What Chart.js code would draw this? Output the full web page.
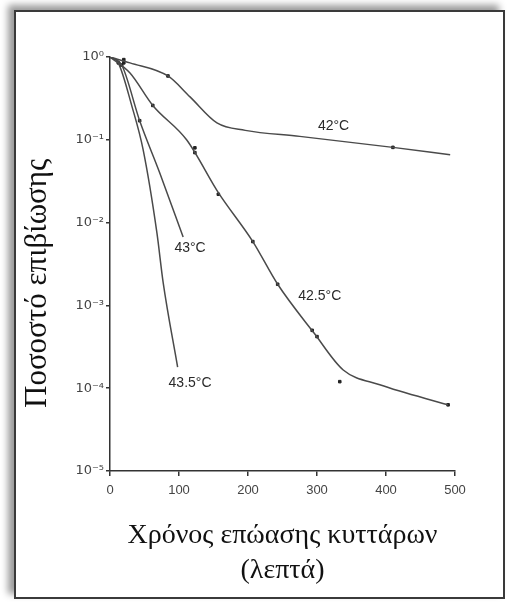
<!DOCTYPE html>
<html>
<head>
<meta charset="utf-8">
<script src="https://cdn.jsdelivr.net/npm/chart.js@4"></script>
<style>
  html, body { margin:0; padding:0; background:#fff; width:508px; height:606px; overflow:hidden; }
  #frame { position:absolute; left:14px; top:10px; width:487px; height:585px; border:2px solid #3a3a3a; box-shadow:-6px -5px 7px #9a9a9a; background:#fff; }
  #wrap { position:absolute; left:0; top:0; width:508px; height:606px; }
</style>
</head>
<body>
<div id="frame"></div>
<div id="wrap"><canvas id="c" width="508" height="606"></canvas></div>
<script>
// ---- data (minutes, surviving fraction) ----
const xTicks = [0, 100, 200, 300, 400, 500];
const yTicks = [1, 1e-1, 1e-2, 1e-3, 1e-4, 1e-5];
const yTickLabels = ['10\u2070', '10\u207B\u00B9', '10\u207B\u00B2', '10\u207B\u00B3', '10\u207B\u2074', '10\u207B\u2075'];

const curve42x  = [0, 29, 84, 116, 155, 196, 275, 410, 493];
const curve42y  = [1, 0.85, 0.59, 0.33, 0.16, 0.13, 0.11, 0.081, 0.066];
const dots42x   = [20, 84, 410];
const dots42y   = [0.93, 0.59, 0.081];

const curve425x = [0, 29, 62, 111, 157, 207, 243, 296, 338, 391, 490];
const curve425y = [1, 0.64, 0.26, 0.1, 0.023, 0.0059, 0.0018, 4.6e-4, 1.66e-4, 1.1e-4, 6.3e-5];
const dots425x  = [20, 62, 123, 123, 157, 207, 243, 293, 300, 333, 490];
const dots425y  = [0.85, 0.26, 0.08, 0.07, 0.022, 0.0059, 0.0018, 5e-4, 4.2e-4, 1.2e-4, 6.3e-5];

const curve43x  = [0, 17, 43, 72, 106];
const curve43y  = [1, 0.8, 0.17, 0.04, 0.0067];
const dots43x   = [17, 43];
const dots43y   = [0.8, 0.17];

const curve435x = [0, 12, 32, 48, 68, 77, 98];
const curve435y = [1, 0.85, 0.25, 0.076, 0.0075, 0.0019, 1.8e-4];
const dots435x  = [12];
const dots435y  = [0.85];

const seriesLabels = ['42\u00B0C', '42.5\u00B0C', '43\u00B0C', '43.5\u00B0C'];
const labelX = [324, 304, 116, 116];
const labelY = [0.147, 0.0013, 0.0049, 1.15e-4];

const xTitle = ['Χρόνος επώασης κυττάρων', '(λεπτά)'];
const yTitle = 'Ποσοστό επιβίωσης';

// ---- build ----
const pts = (xs, ys) => xs.map((x, i) => ({x, y: ys[i]}));
const lineColor = '#4a4a4a';
function curveDs(xs, ys) {
  return { type:'line', data: pts(xs, ys), borderColor: lineColor, borderWidth: 1.5,
           pointRadius: 0, cubicInterpolationMode: 'monotone', fill: false };
}
function dotDs(xs, ys) {
  return { type:'scatter', data: pts(xs, ys), backgroundColor: '#222', borderColor: '#222',
           pointRadius: 1.8, pointStyle: 'rect', showLine: false };
}

const labelPlugin = {
  id: 'seriesLabels',
  afterDatasetsDraw(chart) {
    const {ctx, scales: {x, y}} = chart;
    ctx.save();
    ctx.font = '14px "Liberation Sans", Arial, sans-serif';
    ctx.fillStyle = '#2a2a2a';
    ctx.textAlign = 'center';
    ctx.textBaseline = 'middle';
    seriesLabels.forEach((t, i) => {
      ctx.fillText(t, x.getPixelForValue(labelX[i]), y.getPixelForValue(labelY[i]));
    });
    ctx.restore();
  }
};

const NB = '\u00A0';
new Chart(document.getElementById('c'), {
  data: {
    datasets: [
      curveDs(curve42x, curve42y), dotDs(dots42x, dots42y),
      curveDs(curve425x, curve425y), dotDs(dots425x, dots425y),
      curveDs(curve43x, curve43y), dotDs(dots43x, dots43y),
      curveDs(curve435x, curve435y), dotDs(dots435x, dots435y)
    ]
  },
  options: {
    responsive: false,
    animation: false,
    layout: { padding: { top: 57, right: 53, bottom: 0, left: 0 } },
    plugins: { legend: { display: false }, tooltip: { enabled: false } },
    scales: {
      x: {
        type: 'linear', min: 0, max: 500,
        afterBuildTicks: s => { s.ticks = xTicks.map(v => ({value: v})); },
        afterFit: s => { s.height = 135; },
        grid: { display: true, drawOnChartArea: false, tickLength: 5, color: '#333', lineWidth: 1.5 },
        border: { display: true, color: '#333', width: 1.5 },
        ticks: { color: '#444', font: { size: 13, family: '"Liberation Sans", Arial, sans-serif' }, padding: 7 },
        title: { display: true, text: xTitle, color: '#111',
                 font: { size: 28, family: '"Liberation Serif", "DejaVu Serif", serif', lineHeight: 1.25 },
                 padding: { top: 0, bottom: 18 } }
      },
      y: {
        type: 'logarithmic', min: 1e-5, max: 1,
        afterBuildTicks: s => { s.ticks = yTicks.map(v => ({value: v})); },
        afterFit: s => { s.width = 110; },
        grid: { display: true, drawOnChartArea: false, tickLength: 4, color: '#333', lineWidth: 1.5 },
        border: { display: true, color: '#333', width: 1.5 },
        ticks: { color: '#444', font: { size: 13, family: '"DejaVu Sans", "Liberation Sans", sans-serif' }, padding: 2,
                 callback: (v) => { const i = yTicks.indexOf(v); return i >= 0 ? yTickLabels[i] : ''; } },
        title: { display: true, text: yTitle + NB.repeat(5), color: '#111',
                 font: { size: 31, family: '"Liberation Serif", "DejaVu Serif", serif', lineHeight: 1.0 },
                 padding: { top: 22, bottom: 0 } }
      }
    }
  },
  plugins: [labelPlugin]
});
</script>
</body>
</html>
